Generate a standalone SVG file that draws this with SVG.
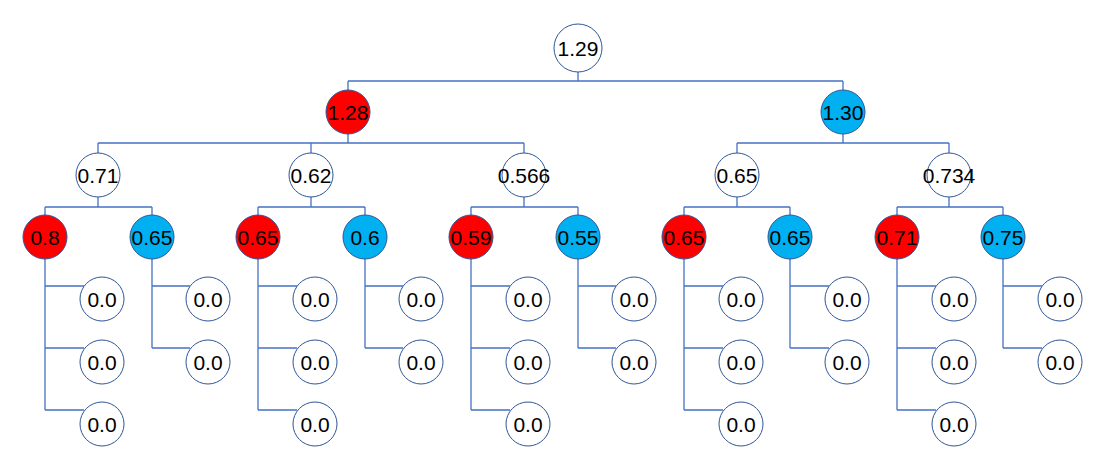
<svg xmlns="http://www.w3.org/2000/svg" width="1104" height="471" viewBox="0 0 1104 471">
<style>
.n{fill:#fff;stroke:#2F5597;stroke-width:1}
.r{fill:#FF0000;stroke:#2F5597;stroke-width:1}
.b{fill:#00B0F0;stroke:#2F5597;stroke-width:1}
.c{fill:none;stroke:#4472C4;stroke-width:1.3}
text{font-family:"Liberation Sans",Arial,sans-serif;font-size:21px;fill:#000;text-anchor:middle;dominant-baseline:central}
</style>
<rect width="1104" height="471" fill="#fff"/>
<g id="connectors" class="c">
<path d="M578 72V81M348 81H843M348 81V90M843 81V90"/>
<path d="M348 134V143M98 143H524M98 143V153M311 143V153M524 143V153"/>
<path d="M843 134V143M737 143H949M737 143V153M949 143V153"/>
<path d="M98 197V207M45 207H152M45 207V215M152 207V215"/>
<path d="M311 197V207M258 207H365M258 207V215M365 207V215"/>
<path d="M524 197V207M471 207H578M471 207V215M578 207V215"/>
<path d="M737 197V207M684 207H790M684 207V215M790 207V215"/>
<path d="M949 197V207M897 207H1003M897 207V215M1003 207V215"/>
<path d="M45 259V410M45 286H84M45 348H84M45 410H84"/>
<path d="M152 259V348M152 286H190M152 348H190"/>
<path d="M258 259V410M258 286H297M258 348H297M258 410H297"/>
<path d="M365 259V348M365 286H403M365 348H403"/>
<path d="M471 259V410M471 286H510M471 348H510M471 410H510"/>
<path d="M578 259V348M578 286H616M578 348H616"/>
<path d="M684 259V410M684 286H723M684 348H723M684 410H723"/>
<path d="M790 259V348M790 286H829M790 348H829"/>
<path d="M897 259V410M897 286H936M897 348H936M897 410H936"/>
<path d="M1003 259V348M1003 286H1042M1003 348H1042"/>
</g>
<g id="root"><circle class="n" cx="578" cy="48" r="24"/><text x="578" y="48">1.29</text></g>
<g id="n1"><circle class="r" cx="348" cy="112" r="22"/><text x="348" y="112">1.28</text></g>
<g id="n2"><circle class="b" cx="843" cy="112" r="22"/><text x="843" y="112">1.30</text></g>
<g id="n11"><circle class="n" cx="98" cy="175" r="22"/><text x="98" y="175">0.71</text></g>
<g id="n12"><circle class="n" cx="311" cy="175" r="22"/><text x="311" y="175">0.62</text></g>
<g id="n13"><circle class="n" cx="524" cy="175" r="22"/><text x="524" y="175">0.566</text></g>
<g id="n21"><circle class="n" cx="737" cy="175" r="22"/><text x="737" y="175">0.65</text></g>
<g id="n22"><circle class="n" cx="949" cy="175" r="22"/><text x="949" y="175">0.734</text></g>
<g id="n111"><circle class="r" cx="45" cy="237" r="22"/><text x="45" y="237">0.8</text></g>
<g id="n112"><circle class="b" cx="152" cy="237" r="22"/><text x="152" y="237">0.65</text></g>
<g id="n121"><circle class="r" cx="258" cy="237" r="22"/><text x="258" y="237">0.65</text></g>
<g id="n122"><circle class="b" cx="365" cy="237" r="22"/><text x="365" y="237">0.6</text></g>
<g id="n131"><circle class="r" cx="471" cy="237" r="22"/><text x="471" y="237">0.59</text></g>
<g id="n132"><circle class="b" cx="578" cy="237" r="22"/><text x="578" y="237">0.55</text></g>
<g id="n211"><circle class="r" cx="684" cy="237" r="22"/><text x="684" y="237">0.65</text></g>
<g id="n212"><circle class="b" cx="790" cy="237" r="22"/><text x="790" y="237">0.65</text></g>
<g id="n221"><circle class="r" cx="897" cy="237" r="22"/><text x="897" y="237">0.71</text></g>
<g id="n222"><circle class="b" cx="1003" cy="237" r="22"/><text x="1003" y="237">0.75</text></g>
<g id="leaves-n111">
<g id="l1111"><circle class="n" cx="102" cy="299" r="22"/><text x="102" y="299">0.0</text></g>
<g id="l1112"><circle class="n" cx="102" cy="362" r="22"/><text x="102" y="362">0.0</text></g>
<g id="l1113"><circle class="n" cx="102" cy="424" r="22"/><text x="102" y="424">0.0</text></g>
</g>
<g id="leaves-n112">
<g id="l1121"><circle class="n" cx="208" cy="299" r="22"/><text x="208" y="299">0.0</text></g>
<g id="l1122"><circle class="n" cx="208" cy="362" r="22"/><text x="208" y="362">0.0</text></g>
</g>
<g id="leaves-n121">
<g id="l1211"><circle class="n" cx="315" cy="299" r="22"/><text x="315" y="299">0.0</text></g>
<g id="l1212"><circle class="n" cx="315" cy="362" r="22"/><text x="315" y="362">0.0</text></g>
<g id="l1213"><circle class="n" cx="315" cy="424" r="22"/><text x="315" y="424">0.0</text></g>
</g>
<g id="leaves-n122">
<g id="l1221"><circle class="n" cx="421" cy="299" r="22"/><text x="421" y="299">0.0</text></g>
<g id="l1222"><circle class="n" cx="421" cy="362" r="22"/><text x="421" y="362">0.0</text></g>
</g>
<g id="leaves-n131">
<g id="l1311"><circle class="n" cx="528" cy="299" r="22"/><text x="528" y="299">0.0</text></g>
<g id="l1312"><circle class="n" cx="528" cy="362" r="22"/><text x="528" y="362">0.0</text></g>
<g id="l1313"><circle class="n" cx="528" cy="424" r="22"/><text x="528" y="424">0.0</text></g>
</g>
<g id="leaves-n132">
<g id="l1321"><circle class="n" cx="634" cy="299" r="22"/><text x="634" y="299">0.0</text></g>
<g id="l1322"><circle class="n" cx="634" cy="362" r="22"/><text x="634" y="362">0.0</text></g>
</g>
<g id="leaves-n211">
<g id="l2111"><circle class="n" cx="741" cy="299" r="22"/><text x="741" y="299">0.0</text></g>
<g id="l2112"><circle class="n" cx="741" cy="362" r="22"/><text x="741" y="362">0.0</text></g>
<g id="l2113"><circle class="n" cx="741" cy="424" r="22"/><text x="741" y="424">0.0</text></g>
</g>
<g id="leaves-n212">
<g id="l2121"><circle class="n" cx="847" cy="299" r="22"/><text x="847" y="299">0.0</text></g>
<g id="l2122"><circle class="n" cx="847" cy="362" r="22"/><text x="847" y="362">0.0</text></g>
</g>
<g id="leaves-n221">
<g id="l2211"><circle class="n" cx="954" cy="299" r="22"/><text x="954" y="299">0.0</text></g>
<g id="l2212"><circle class="n" cx="954" cy="362" r="22"/><text x="954" y="362">0.0</text></g>
<g id="l2213"><circle class="n" cx="954" cy="424" r="22"/><text x="954" y="424">0.0</text></g>
</g>
<g id="leaves-n222">
<g id="l2221"><circle class="n" cx="1060" cy="299" r="22"/><text x="1060" y="299">0.0</text></g>
<g id="l2222"><circle class="n" cx="1060" cy="362" r="22"/><text x="1060" y="362">0.0</text></g>
</g>
</svg>
